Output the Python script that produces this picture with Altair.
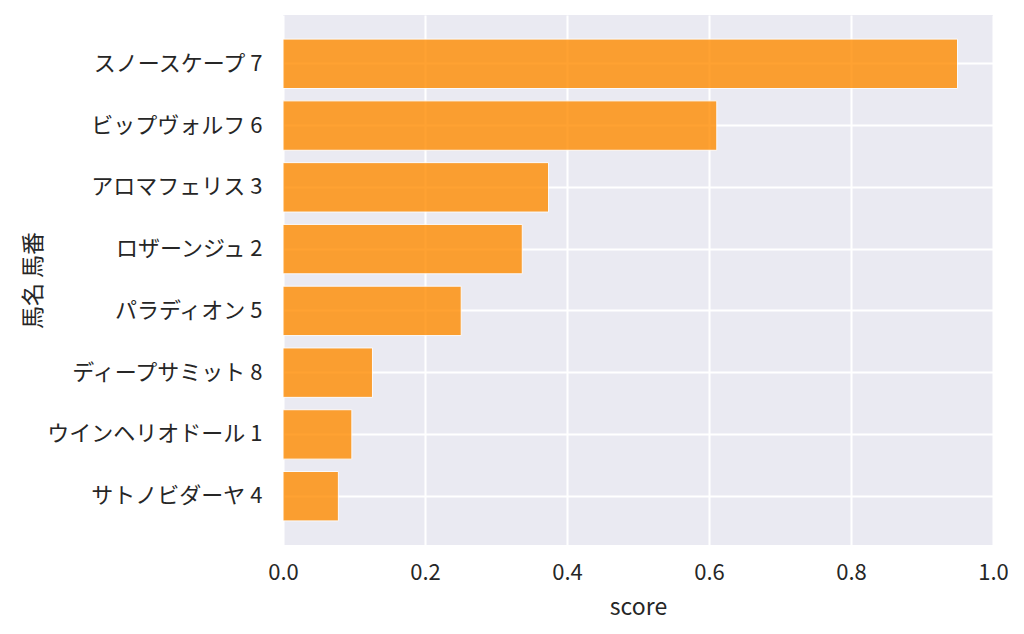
import altair as alt
import pandas as pd

horses = ["スノースケープ 7", "ビップヴォルフ 6", "アロマフェリス 3", "ロザーンジュ 2",
          "パラディオン 5", "ディープサミット 8", "ウインヘリオドール 1", "サトノビダーヤ 4"]
scores = [0.950, 0.611, 0.374, 0.337, 0.251, 0.126, 0.097, 0.078]

df = pd.DataFrame({"horse": horses, "score": scores})

FONT = "Noto Sans CJK JP"
TXT = "#262626"

chart = alt.Chart(df).mark_bar(
    color="#FF8C00", opacity=0.8, stroke="white", strokeWidth=1
).encode(
    x=alt.X("score:Q", title="score",
            scale=alt.Scale(domain=[0, 1.0], nice=False, zero=True),
            axis=alt.Axis(values=[0, 0.2, 0.4, 0.6, 0.8, 1.0], format=".1f",
                          tickSize=0, labelPadding=17, labelFontSize=22, labelFlush=False,
                          titleFontSize=23, titleFontWeight="normal",
                          titleY=62, titleBaseline="middle",
                          domain=False, grid=True, gridColor="white", gridWidth=2,
                          labelColor=TXT, titleColor=TXT, labelFont=FONT, titleFont=FONT)),
    y=alt.Y("horse:N", title="馬名 馬番", sort=horses,
            scale=alt.Scale(paddingInner=0.2, paddingOuter=0.39),
            axis=alt.Axis(tickSize=0, labelPadding=21, labelFontSize=22, labelLimit=400,
                          titleFontSize=23, titleFontWeight="normal",
                          titleX=-250, titleBaseline="middle",
                          bandPosition=0.5, domain=False, grid=True,
                          gridColor="white", gridWidth=2,
                          labelColor=TXT, titleColor=TXT, labelFont=FONT, titleFont=FONT)),
).properties(
    width=710, height=530,
    background="white",
    autosize=alt.AutoSizeParams(type="none"),
    padding={"left": 275, "top": 7, "right": 15, "bottom": 85},
).configure_view(
    fill="#EAEAF2", stroke=None
)

chart.save("out.html", embed_options={"renderer": "svg", "actions": False})
